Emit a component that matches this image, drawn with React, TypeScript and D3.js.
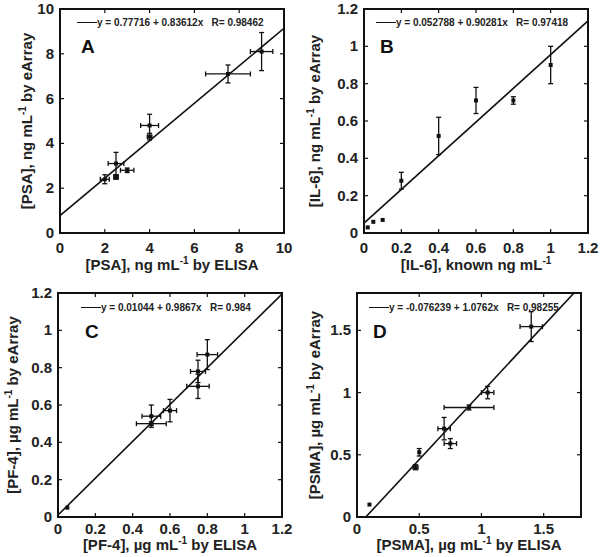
import * as d3 from 'd3';

// panel A: PSA
const psaX = [2, 2.5, 2.5, 3, 4, 4, 7.5, 9];
const psaY = [2.4, 3.1, 2.5, 2.8, 4.8, 4.3, 7.1, 8.1];
const psaXErr = [0.2, 0.35, 0.1, 0.3, 0.4, 0.1, 1.0, 0.5];
const psaYErr = [0.2, 0.5, 0.1, 0.1, 0.5, 0.15, 0.4, 0.85];
const psaTicks = [0, 2, 4, 6, 8, 10];

// panel B: IL-6
const il6X = [0.02, 0.05, 0.1, 0.2, 0.4, 0.6, 0.8, 1.0];
const il6Y = [0.03, 0.06, 0.07, 0.28, 0.52, 0.71, 0.71, 0.9];
const il6XErr = [0, 0, 0, 0, 0, 0, 0, 0];
const il6YErr = [0, 0, 0, 0.045, 0.1, 0.07, 0.02, 0.1];
const unitTicks = [0, 0.2, 0.4, 0.6, 0.8, 1, 1.2];

// panel C: PF-4
const pf4X = [0.05, 0.5, 0.5, 0.6, 0.75, 0.75, 0.8];
const pf4Y = [0.05, 0.54, 0.5, 0.57, 0.78, 0.7, 0.87];
const pf4XErr = [0, 0.05, 0.08, 0.035, 0.04, 0.06, 0.055];
const pf4YErr = [0, 0.06, 0.01, 0.06, 0.06, 0.065, 0.08];

// panel D: PSMA
const psmaX = [0.1, 0.47, 0.5, 0.7, 0.75, 0.9, 1.05, 1.4];
const psmaY = [0.1, 0.4, 0.52, 0.71, 0.59, 0.88, 1.0, 1.53];
const psmaXErr = [0, 0.02, 0, 0.05, 0.05, 0.2, 0.05, 0.09];
const psmaYErr = [0, 0.02, 0.03, 0.09, 0.04, 0.02, 0.05, 0.12];
const psmaTicks = [0, 0.5, 1, 1.5];

const FONT = '"Liberation Sans", Arial, sans-serif';
const SIZE = 224;

type PanelProps = {
  id: string;
  left: number;
  top: number;
  max: number;
  ticks: number[];
  xs: number[];
  ys: number[];
  xErr: number[];
  yErr: number[];
  intercept: number;
  slope: number;
  legend: string;
  legendDx: number;
  legendDy: number;
  letter: string;
  xTitle: [string, string];
  yTitle: [string, string];
  yTitleX: number;
  tickDy: number;
  titleDy: number;
};

const Title = ({ parts }: { parts: [string, string] }) => (
  <>
    {parts[0]}
    <tspan fontSize={10} dy={-6}>-1</tspan>
    <tspan dy={6}>{parts[1]}</tspan>
  </>
);

const Panel = (p: PanelProps) => {
  const x = d3.scaleLinear().domain([0, p.max]).range([0, SIZE]);
  const y = d3.scaleLinear().domain([0, p.max]).range([SIZE, 0]);
  const fit = d3
    .line<number>()
    .x((d) => x(d))
    .y((d) => y(p.intercept + p.slope * d));
  const cap = 2.5;

  return (
    <g transform={`translate(${p.left},${p.top})`} fontFamily={FONT} fontWeight="bold">
      <defs>
        <clipPath id={`clip-${p.id}`}>
          <rect width={SIZE} height={SIZE} />
        </clipPath>
      </defs>
      <g clipPath={`url(#clip-${p.id})`}>
        <path d={fit([0, p.max]) || ''} stroke="#111" strokeWidth={1.6} fill="none" />
        {p.xs.map((xv, i) => {
          const cx = x(xv);
          const cy = y(p.ys[i]);
          const xe = p.xErr[i];
          const ye = p.yErr[i];
          return (
            <g key={i} stroke="#111" strokeWidth={1.3}>
              {ye > 0 && (
                <>
                  <line x1={cx} x2={cx} y1={y(p.ys[i] - ye)} y2={y(p.ys[i] + ye)} />
                  <line x1={cx - cap} x2={cx + cap} y1={y(p.ys[i] - ye)} y2={y(p.ys[i] - ye)} />
                  <line x1={cx - cap} x2={cx + cap} y1={y(p.ys[i] + ye)} y2={y(p.ys[i] + ye)} />
                </>
              )}
              {xe > 0 && (
                <>
                  <line x1={x(xv - xe)} x2={x(xv + xe)} y1={cy} y2={cy} />
                  <line x1={x(xv - xe)} x2={x(xv - xe)} y1={cy - cap} y2={cy + cap} />
                  <line x1={x(xv + xe)} x2={x(xv + xe)} y1={cy - cap} y2={cy + cap} />
                </>
              )}
              <rect x={cx - 2} y={cy - 2} width={4} height={4} fill="#111" stroke="none" />
            </g>
          );
        })}
      </g>
      {p.ticks.map((t) => (
        <g key={t} stroke="#111" strokeWidth={1.2}>
          <line x1={x(t)} x2={x(t)} y1={SIZE} y2={SIZE - 4} />
          <line x1={x(t)} x2={x(t)} y1={0} y2={4} />
          <line x1={0} x2={4} y1={y(t)} y2={y(t)} />
          <line x1={SIZE} x2={SIZE - 4} y1={y(t)} y2={y(t)} />
        </g>
      ))}
      <rect width={SIZE} height={SIZE} fill="none" stroke="#111" strokeWidth={2} />
      {p.ticks.map((t) => (
        <text key={`x${t}`} x={x(t)} y={SIZE + p.tickDy} textAnchor="middle" fontSize={15} fill="#222">
          {d3.format('~g')(t)}
        </text>
      ))}
      {p.ticks.map((t) => (
        <text key={`y${t}`} x={-6} y={y(t) + 5} textAnchor="end" fontSize={15} fill="#222">
          {d3.format('~g')(t)}
        </text>
      ))}
      <line x1={p.legendDx} x2={p.legendDx + 20} y1={p.legendDy - 3.5} y2={p.legendDy - 3.5} stroke="#111" strokeWidth={1} />
      <text x={p.legendDx + 20} y={p.legendDy} fontSize={10} fill="#222" style={{ whiteSpace: 'pre' }}>
        {p.legend}
      </text>
      <text x={p.legendDx + 4} y={p.legendDy + 27} fontSize={19} fill="#111">
        {p.letter}
      </text>
      <text x={SIZE / 2} y={SIZE + p.titleDy} textAnchor="middle" fontSize={15} fill="#222">
        <Title parts={p.xTitle} />
      </text>
      <text
        transform={`translate(${p.yTitleX},${SIZE / 2}) rotate(-90)`}
        textAnchor="middle"
        fontSize={15}
        fill="#222"
      >
        <Title parts={p.yTitle} />
      </text>
    </g>
  );
};

export default function App() {
  return (
    <svg width={600} height={557} style={{ position: 'absolute', left: 0, top: 0, background: '#fff' }}>
      <rect width={600} height={557} fill="#fff" />
      <Panel
        id="a" left={60} top={9} max={10} ticks={psaTicks}
        xs={psaX} ys={psaY} xErr={psaXErr} yErr={psaYErr}
        intercept={0.77716} slope={0.83612}
        legend="y = 0.77716 + 0.83612x   R= 0.98462" legendDx={17} legendDy={17}
        letter="A" xTitle={['[PSA], ng mL', ' by ELISA']} yTitle={['[PSA], ng mL', ' by eArray']} yTitleX={-28}
        tickDy={20} titleDy={37}
      />
      <Panel
        id="b" left={364} top={9} max={1.2} ticks={unitTicks}
        xs={il6X} ys={il6Y} xErr={il6XErr} yErr={il6YErr}
        intercept={0.052788} slope={0.90281}
        legend="y = 0.052788 + 0.90281x   R= 0.97418" legendDx={12} legendDy={17}
        letter="B" xTitle={['[IL-6], known ng mL', '']} yTitle={['[IL-6], ng mL', ' by eArray']} yTitleX={-44}
        tickDy={20} titleDy={37}
      />
      <Panel
        id="c" left={58} top={293} max={1.2} ticks={unitTicks}
        xs={pf4X} ys={pf4Y} xErr={pf4XErr} yErr={pf4YErr}
        intercept={0.01044} slope={0.9867}
        legend="y = 0.01044 + 0.9867x   R= 0.984" legendDx={23} legendDy={18}
        letter="C" xTitle={['[PF-4], µg mL', ' by ELISA']} yTitle={['[PF-4], µg mL', ' by eArray']} yTitleX={-40}
        tickDy={17} titleDy={33}
      />
      <Panel
        id="d" left={357} top={293} max={1.8} ticks={psmaTicks}
        xs={psmaX} ys={psmaY} xErr={psmaXErr} yErr={psmaYErr}
        intercept={-0.076239} slope={1.0762}
        legend="y = -0.076239 + 1.0762x   R= 0.98255" legendDx={12} legendDy={18}
        letter="D" xTitle={['[PSMA], µg mL', ' by ELISA']} yTitle={['[PSMA], µg mL', ' by eArray']} yTitleX={-37}
        tickDy={17} titleDy={33}
      />
    </svg>
  );
}
